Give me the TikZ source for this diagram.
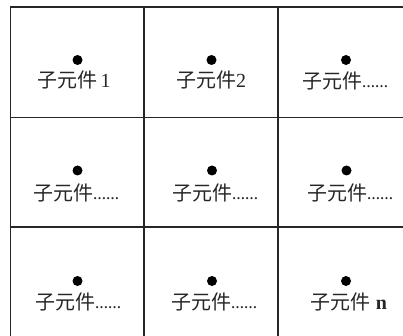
\documentclass[tikz,border=0pt]{standalone}
\usepackage{fontspec}
\setmainfont{Liberation Serif}
\newfontfamily\cjk{Noto Sans CJK SC}
\newcommand{\myell}{{\fontsize{13}{13}\selectfont\bfseries\raisebox{1.5pt}{……}}}
\begin{document}
\begin{tikzpicture}[x=1pt,y=-1pt,
  gridline/.style={line width=1.1pt,draw=black!85},
  pin/.style={circle,fill=black,inner sep=0pt,minimum size=10pt},
  lbl/.style={inner sep=0pt,anchor=center,text=black!85,font=\fontsize{20}{20}\selectfont}]
\useasboundingbox (0,0) rectangle (403,336);
% grid
\coordinate (tl) at (10.5,7);
\coordinate (tr) at (403,7);
\coordinate (bl) at (10.5,336);
\draw[gridline] (bl) -- (tl) -- (tr);
\foreach \x/\n in {144/a,278/b}{
  \coordinate (v\n t) at (\x,7);
  \coordinate (v\n b) at (\x,336);
  \draw[gridline] (v\n t) -- (v\n b);
}
\foreach \y/\n in {117.5/a,227/b}{
  \coordinate (h\n l) at (10.5,\y);
  \coordinate (h\n r) at (403,\y);
  \draw[gridline] (h\n l) -- (h\n r);
}
% dots
\node[pin] (d11) at (77.5,60) {};
\node[pin] (d12) at (211.5,60) {};
\node[pin] (d13) at (346,60) {};
\node[pin] (d21) at (77.5,170.5) {};
\node[pin] (d22) at (212,170.5) {};
\node[pin] (d23) at (346.5,170.5) {};
\node[pin] (d31) at (77.5,281) {};
\node[pin] (d32) at (212,281) {};
\node[pin] (d33) at (346,281) {};
% labels
\node[lbl] (t11) at (74,80) {{\cjk 子元件}\,1};
\node[lbl] (t12) at (211,80) {{\cjk 子元件}2};
\node[lbl] (t13) at (345,81) {{\cjk 子元件}\myell};
\node[lbl] (t21) at (76,193) {{\cjk 子元件}\myell};
\node[lbl] (t22) at (215,193) {{\cjk 子元件}\myell};
\node[lbl] (t23) at (350,193) {{\cjk 子元件}\myell};
\node[lbl] (t31) at (78,302) {{\cjk 子元件}\myell};
\node[lbl] (t32) at (214,302) {{\cjk 子元件}\myell};
\node[lbl] (t33) at (349,302) {{\cjk 子元件}\ \textbf{n}};
\end{tikzpicture}
\end{document}
